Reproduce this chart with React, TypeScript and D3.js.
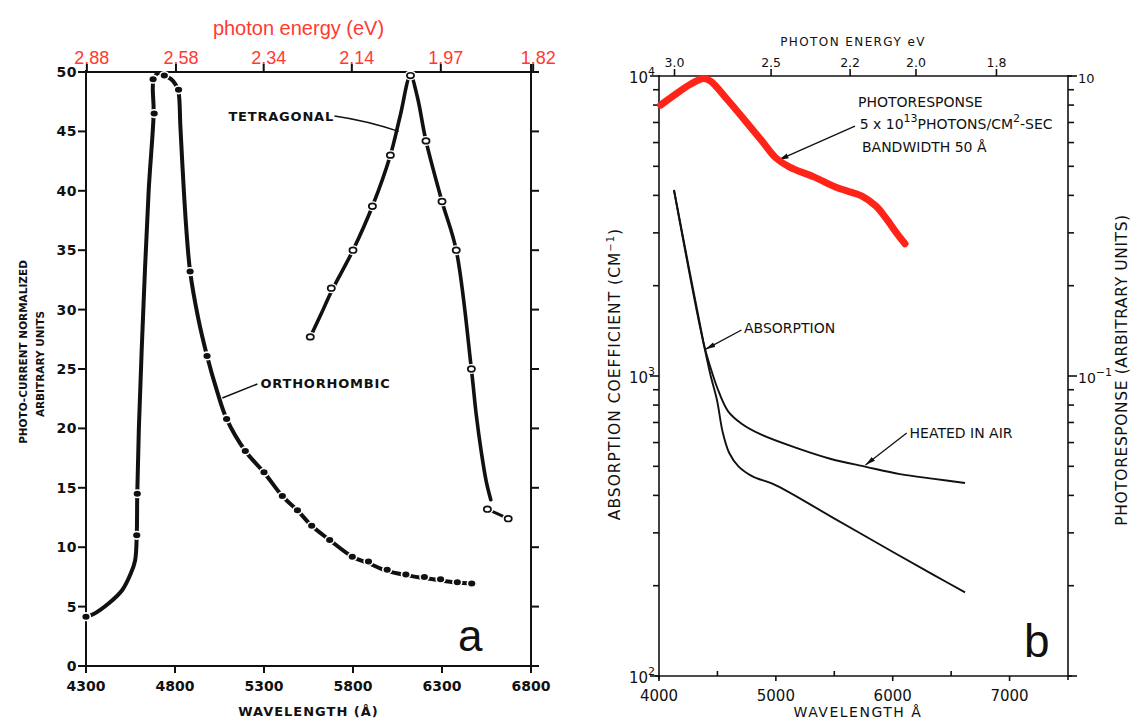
import React from "react";
import * as d3 from "d3";

const HC = 12398; // eV·Å, converts photon energy to wavelength

// ---------- Panel a: photocurrent spectra ----------
const aWavelengthTicks = [4300, 4800, 5300, 5800, 6300, 6800];
const aEnergyTicks = ["2.88", "2.58", "2.34", "2.14", "1.97", "1.82"];
const aCurrentTicks = [0, 5, 10, 15, 20, 25, 30, 35, 40, 45, 50];

// orthorhombic: measured points [wavelength Å, photocurrent]
const orthoPoints: [number, number][] = [
  [4300, 4.15], [4585, 11.0], [4588, 14.5], [4683, 46.5], [4677, 49.4],
  [4740, 49.7], [4820, 48.5], [4885, 33.2], [4980, 26.1], [5090, 20.8],
  [5195, 18.1], [5300, 16.3], [5403, 14.3], [5488, 13.1], [5568, 11.8],
  [5669, 10.6], [5796, 9.2], [5887, 8.8], [5992, 8.1], [6097, 7.7],
  [6201, 7.5], [6292, 7.3], [6386, 7.05], [6467, 6.95],
];
// orthorhombic: drawn curve
const orthoCurve: [number, number][] = [
  [4300, 4.15], [4340, 4.35], [4430, 5.3], [4504, 6.4], [4552, 7.8], [4576, 8.9],
  [4585, 11.0], [4588, 14.5], [4597, 20], [4622, 30], [4652, 40], [4680, 46.5],
  [4679, 49.3], [4705, 49.9], [4740, 49.7], [4778, 49.4], [4805, 48.9], [4820, 48.3],
  [4830, 45.5], [4840, 42.6], [4863, 36.9], [4885, 33.2], [4930, 29.3], [4980, 26.1],
  [5035, 23.2], [5090, 20.8], [5195, 18.1], [5300, 16.3], [5403, 14.3], [5488, 13.1],
  [5568, 11.8], [5669, 10.6], [5796, 9.2], [5887, 8.65], [5992, 8.0], [6097, 7.65],
  [6201, 7.4], [6292, 7.2], [6386, 7.02], [6467, 6.95],
];

// tetragonal: measured points
const tetraPoints: [number, number][] = [
  [5560, 27.7], [5678, 31.8], [5800, 35.0], [5909, 38.7], [6010, 43.0],
  [6123, 49.7], [6210, 44.2], [6300, 39.1], [6380, 35.0], [6465, 25.0],
  [6555, 13.2], [6672, 12.4],
];
// tetragonal: drawn curve and short tail
const tetraCurve: [number, number][] = [
  [5560, 27.7], [5620, 29.6], [5678, 31.5], [5800, 35.0], [5909, 38.7], [6010, 43.0],
  [6065, 46.3], [6123, 49.7], [6160, 48.0], [6210, 44.2], [6300, 39.1], [6380, 35.0],
  [6465, 25.0], [6492, 21.2], [6521, 18.0], [6549, 15.5], [6574, 14.0],
];
const tetraTail: [number, number][] = [[6555, 13.2], [6672, 12.4]];

// ---------- Panel b: absorption and photoresponse ----------
const bWavelengthTicks = [4000, 5000, 6000, 7000];
const bWavelengthMinor = [4500, 5500, 6500];
const bEnergyTicks = ["3.0", "2.5", "2.2", "2.0", "1.8"];

// photoresponse [wavelength Å, arbitrary units]
const photoresponse: [number, number][] = [
  [4014, 0.80], [4116, 0.855], [4265, 0.937], [4382, 0.981], [4441, 0.962],
  [4588, 0.832], [4736, 0.711], [4881, 0.607], [5001, 0.533], [5118, 0.497],
  [5325, 0.461], [5532, 0.423], [5737, 0.398], [5855, 0.369], [5942, 0.336],
  [6032, 0.300], [6105, 0.276],
];
// absorption coefficient [wavelength Å, cm^-1]
const absorption: [number, number][] = [
  [4128, 4169], [4385, 1269], [4440, 1010], [4496, 832], [4545, 650], [4600, 555],
  [4680, 500], [4796, 464], [5001, 432], [5472, 340], [6002, 259], [6353, 217],
  [6619, 190],
];
const absorptionHeated: [number, number][] = [
  [4128, 4169], [4385, 1269], [4440, 1070], [4496, 919], [4590, 764], [4710, 692],
  [4881, 636], [5181, 575], [5472, 529], [5772, 498], [6062, 471], [6353, 454],
  [6619, 440],
];

const BOLD = "'DejaVu Sans', Verdana, sans-serif";
const ARIAL = "'Liberation Sans', Arial, sans-serif";
const LETTER = "'DejaVu Sans', sans-serif";
const RED = "#ff3a30";
const INK = "#111";

export default function App() {
  const xa = d3.scaleLinear().domain([4300, 6800]).range([86, 531]);
  const ya = d3.scaleLinear().domain([0, 50]).range([666, 72]);
  const xb = d3.scaleLinear().domain([4000, 7500]).range([659, 1068]);
  const yb = d3.scaleLog().domain([100, 10000]).range([676, 76]);
  const yr = d3.scaleLog().domain([0.01, 1]).range([676, 76]);

  const smooth = d3.curveCatmullRom.alpha(0.5);
  const lineA = d3.line<[number, number]>().x((d) => xa(d[0])).y((d) => ya(d[1])).curve(smooth);
  const lineB = d3.line<[number, number]>().x((d) => xb(d[0])).y((d) => yb(d[1])).curve(smooth);
  const lineR = d3.line<[number, number]>().x((d) => xb(d[0])).y((d) => yr(d[1])).curve(smooth);

  const aL = xa.range()[0], aR = xa.range()[1], aB = ya.range()[0], aT = ya.range()[1];
  const bL = xb.range()[0], bR = xb.range()[1], bB = yb.range()[0], bT = yb.range()[1];

  const minorLeft = [100, 1000].flatMap((dec) => d3.range(2, 10).map((k) => k * dec));
  const minorRight = [0.01, 0.1].flatMap((dec) => d3.range(2, 10).map((k) => k * dec));

  // annotation leaders, in data units
  const tetraLeader = [xa(5696), ya(46.3), xa(5880), ya(45.9), xa(6057), ya(45.0)];
  const orthoLeader = [xa(5263), ya(23.74), xa(5066), ya(22.56)];

  return (
    <svg
      width={1131}
      height={720}
      viewBox="0 0 1131 720"
      style={{ position: "absolute", left: 0, top: 0, background: "#fff" }}
    >
      <defs>
        <marker id="arrowhead" viewBox="0 0 10 6" refX="10" refY="3" markerWidth="10" markerHeight="6"
          markerUnits="userSpaceOnUse" orient="auto">
          <path d="M0,0.5 L10,3 L0,5.5 Z" fill={INK} />
        </marker>
      </defs>
      <rect width={1131} height={720} fill="#fff" />

      {/* ================= Panel a ================= */}
      <g stroke={INK} strokeWidth={2} fill="none">
        <line x1={aL - 8} x2={aR + 8} y1={aB} y2={aB} />
        <line x1={aL - 8} x2={aR + 8} y1={aT} y2={aT} />
        <line x1={aL} x2={aL} y1={aT - 2} y2={aB + 6} />
        <line x1={aR} x2={aR} y1={aT - 8} y2={aB + 6} />
        {aCurrentTicks.map((v) => (
          <g key={v}>
            <line x1={aL - 8} x2={aL} y1={ya(v)} y2={ya(v)} />
            <line x1={aR} x2={aR + 8} y1={ya(v)} y2={ya(v)} />
          </g>
        ))}
        {aWavelengthTicks.map((w) => (
          <line key={w} x1={xa(w)} x2={xa(w)} y1={aB} y2={aB + 7} />
        ))}
        {aEnergyTicks.map((e) => (
          <line key={e} x1={xa(HC / +e)} x2={xa(HC / +e)} y1={aT} y2={aT - 8} />
        ))}
      </g>

      <g fontFamily={BOLD} fontWeight="bold" fill={INK}>
        {aCurrentTicks.map((v) => (
          <text key={v} x={aL - 9} y={ya(v) + 5} fontSize={14} textAnchor="end" letterSpacing={0.5}>
            {v}
          </text>
        ))}
        {aWavelengthTicks.map((w) => (
          <text key={w} x={xa(w)} y={aB + 25} fontSize={14} textAnchor="middle">
            {w}
          </text>
        ))}
        <text x={(aL + aR) / 2} y={716} fontSize={13} textAnchor="middle" letterSpacing={1}>
          WAVELENGTH (Å)
        </text>
        <text transform="translate(27,352) rotate(-90)" fontSize={10.5} textAnchor="middle">
          PHOTO-CURRENT NORMALIZED
        </text>
        <text transform="translate(44,364) rotate(-90)" fontSize={10.5} textAnchor="middle">
          ARBITRARY UNITS
        </text>
        <text x={xa(5100)} y={ya(45.9)} fontSize={13} letterSpacing={0.8}>TETRAGONAL</text>
        <text x={xa(5280)} y={ya(23.4)} fontSize={13} letterSpacing={0.8}>ORTHORHOMBIC</text>
      </g>

      <g fontFamily={ARIAL} fill={RED}>
        <text x={(aL + aR) / 2 - 10} y={35} fontSize={20} textAnchor="middle">photon energy (eV)</text>
        {aEnergyTicks.map((e) => (
          <text key={e} x={xa(HC / +e) + 5} y={64} fontSize={18} textAnchor="middle">
            {e}
          </text>
        ))}
      </g>

      {/* leader lines */}
      <path
        d={`M${tetraLeader[0]},${tetraLeader[1]} Q${tetraLeader[2]},${tetraLeader[3]} ${tetraLeader[4]},${tetraLeader[5]}`}
        stroke={INK} strokeWidth={1.5} fill="none"
      />
      <line x1={orthoLeader[0]} y1={orthoLeader[1]} x2={orthoLeader[2]} y2={orthoLeader[3]} stroke={INK} strokeWidth={1.5} />

      {/* curves */}
      <path d={lineA(orthoCurve) ?? ""} stroke={INK} strokeWidth={4} fill="none" strokeLinecap="round" strokeLinejoin="round" />
      <path d={lineA(tetraCurve) ?? ""} stroke={INK} strokeWidth={3.6} fill="none" strokeLinecap="round" strokeLinejoin="round" />
      <path d={lineA(tetraTail) ?? ""} stroke={INK} strokeWidth={3} fill="none" />

      {orthoPoints.map((d, i) => (
        <ellipse key={i} cx={xa(d[0])} cy={ya(d[1])} rx={4.4} ry={3.8} fill={INK} stroke="#fff" strokeWidth={1.6} />
      ))}
      {tetraPoints.map((d, i) => (
        <g key={i}>
          <ellipse cx={xa(d[0])} cy={ya(d[1])} rx={6} ry={5} fill="#fff" />
          <ellipse cx={xa(d[0])} cy={ya(d[1])} rx={3.6} ry={2.8} fill="#fff" stroke={INK} strokeWidth={1.7} />
        </g>
      ))}

      <text x={458} y={651} fontFamily={ARIAL} fontSize={44} fill={INK}>a</text>

      {/* ================= Panel b ================= */}
      <g stroke={INK} strokeWidth={1.6} fill="none">
        <line x1={bL - 4} x2={bR + 4} y1={bB} y2={bB} />
        <line x1={bL} x2={bR + 4} y1={bT} y2={bT} />
        <line x1={bL} x2={bL} y1={bT - 1} y2={bB + 3} />
        <line x1={bR} x2={bR} y1={bT - 1} y2={bB + 4} />
        {[100, 1000, 10000].map((v) => (
          <line key={v} x1={bL - 9} x2={bL} y1={yb(v)} y2={yb(v)} />
        ))}
        {minorLeft.map((v) => (
          <line key={v} x1={bL - 6} x2={bL} y1={yb(v)} y2={yb(v)} />
        ))}
        {[0.01, 0.1, 1].map((v) => (
          <line key={v} x1={bR} x2={bR + 9} y1={yr(v)} y2={yr(v)} />
        ))}
        {minorRight.map((v) => (
          <line key={v} x1={bR} x2={bR + 6} y1={yr(v)} y2={yr(v)} />
        ))}
        {bWavelengthTicks.map((w) => (
          <line key={w} x1={xb(w)} x2={xb(w)} y1={bB} y2={bB + 5} />
        ))}
        {bWavelengthMinor.map((w) => (
          <line key={w} x1={xb(w)} x2={xb(w)} y1={bB} y2={bB - 5} />
        ))}
        {bEnergyTicks.map((e) => (
          <line key={e} x1={xb(HC / +e)} x2={xb(HC / +e)} y1={bT} y2={bT - 7} />
        ))}
      </g>

      <g fontFamily={LETTER} fill={INK}>
        <text x={853} y={46} fontSize={12} textAnchor="middle" letterSpacing={1.4}>PHOTON ENERGY eV</text>
        {bEnergyTicks.map((e) => (
          <text key={e} x={xb(HC / +e)} y={67} fontSize={12.5} textAnchor="middle">{e}</text>
        ))}
        {bWavelengthTicks.map((w) => (
          <text key={w} x={xb(w)} y={701} fontSize={15} textAnchor="middle">{w}</text>
        ))}
        <text x={858} y={717} fontSize={14} textAnchor="middle" letterSpacing={1.5}>WAVELENGTH Å</text>

        {[2, 3, 4].map((p) => (
          <text key={p} x={bL - 4} y={yb(10 ** p) + 7} fontSize={15} textAnchor="end">
            10<tspan dy={-8} fontSize={11}>{p}</tspan>
          </text>
        ))}
        <text x={bR + 10} y={yr(1) + 7} fontSize={13}>10</text>
        <text x={bR + 10} y={yr(0.1) + 7} fontSize={14}>
          10<tspan dy={-7} fontSize={11}>−1</tspan>
        </text>

        <text transform="translate(620,374) rotate(-90)" fontSize={15.5} textAnchor="middle" letterSpacing={1}>
          ABSORPTION COEFFICIENT (CM<tspan dy={-6} fontSize={10}>−1</tspan><tspan dy={6}>)</tspan>
        </text>
        <text transform="translate(1127,370) rotate(-90)" fontSize={15.5} textAnchor="middle" letterSpacing={0.6}>
          PHOTORESPONSE (ARBITRARY UNITS)
        </text>

        <text x={xb(5703)} y={yr(0.79)} fontSize={14}>PHOTORESPONSE</text>
        <text x={xb(5717)} y={yr(0.666)} fontSize={14}>
          5 x 10<tspan dy={-7} fontSize={11}>13</tspan>
          <tspan dy={7}>PHOTONS/CM</tspan>
          <tspan dy={-7} fontSize={11}>2</tspan>
          <tspan dy={7}>-SEC</tspan>
        </text>
        <text x={xb(5737)} y={yr(0.56)} fontSize={14}>BANDWIDTH  50 Å</text>
        <text x={xb(4727)} y={yb(1391)} fontSize={14}>ABSORPTION</text>
        <text x={xb(6144)} y={yb(623)} fontSize={14}>HEATED IN AIR</text>
      </g>

      {/* annotation arrows */}
      <g stroke={INK} strokeWidth={1.3}>
        <line x1={xb(5677)} y1={yr(0.681)} x2={xb(5024)} y2={yr(0.525)} markerEnd="url(#arrowhead)" />
        <line x1={xb(4706)} y1={yb(1423)} x2={xb(4397)} y2={yb(1227)} markerEnd="url(#arrowhead)" />
        <line x1={xb(6120)} y1={yb(646)} x2={xb(5767)} y2={yb(505)} markerEnd="url(#arrowhead)" />
      </g>

      <path d={lineB(absorption) ?? ""} stroke={INK} strokeWidth={1.9} fill="none" />
      <path d={lineB(absorptionHeated) ?? ""} stroke={INK} strokeWidth={1.9} fill="none" />
      <path d={lineR(photoresponse) ?? ""} stroke="#ff2418" strokeWidth={7} fill="none"
        strokeLinecap="round" strokeLinejoin="round" />

      <text x={1024} y={657} fontFamily={ARIAL} fontSize={46} fill={INK}>b</text>
    </svg>
  );
}
